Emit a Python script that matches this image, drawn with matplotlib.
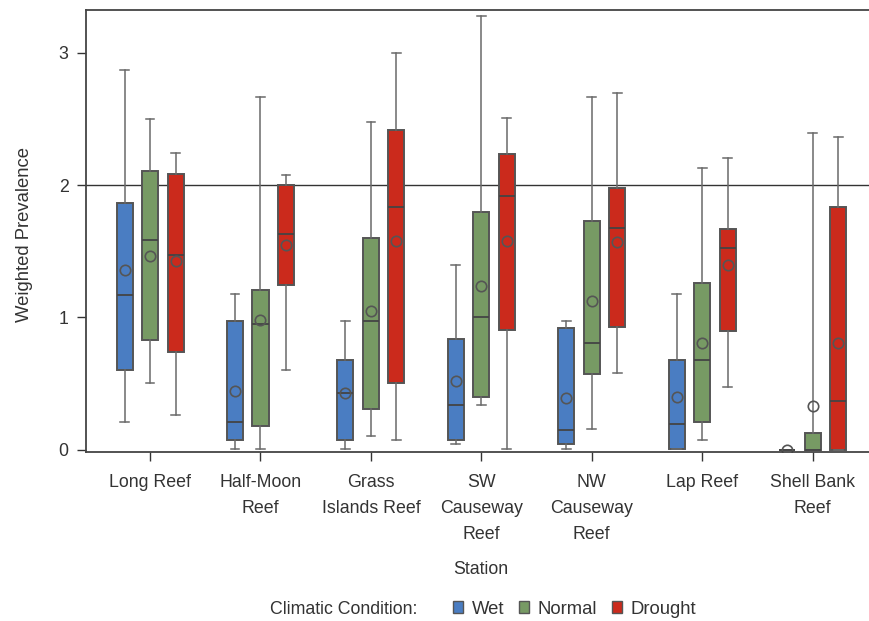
import numpy as np
import matplotlib
matplotlib.use("Agg")
import matplotlib.pyplot as plt
from matplotlib.patches import Patch

plt.rcParams['font.family'] = ['Liberation Sans', 'DejaVu Sans']

stations = ["Long Reef", "Half-Moon\nReef", "Grass\nIslands Reef", "SW\nCauseway\nReef",
            "NW\nCauseway\nReef", "Lap Reef", "Shell Bank\nReef"]
conditions = ["Wet", "Normal", "Drought"]
colors = ["#4a7dc2", "#779a64", "#cb2a1c"]

# per condition, one value per station
wet_low = [0.21, 0.006, 0.006, 0.042, 0.006, 0.006, 0.0]
wet_q1 = [0.60, 0.07, 0.07, 0.07, 0.039, 0.006, 0.0]
wet_med = [1.17, 0.21, 0.43, 0.34, 0.145, 0.19, 0.0]
wet_q3 = [1.865, 0.972, 0.675, 0.834, 0.919, 0.675, 0.0]
wet_high = [2.87, 1.174, 0.972, 1.396, 0.972, 1.174, 0.0]
wet_mean = [1.355, 0.443, 0.43, 0.518, 0.39, 0.40, 0.0]

normal_low = [0.505, 0.006, 0.104, 0.337, 0.155, 0.07, 0.0]
normal_q1 = [0.831, 0.175, 0.304, 0.40, 0.569, 0.208, 0.0]
normal_med = [1.587, 0.952, 0.972, 1.005, 0.806, 0.675, 0.0]
normal_q3 = [2.107, 1.204, 1.597, 1.799, 1.726, 1.257, 0.122]
normal_high = [2.50, 2.669, 2.477, 3.277, 2.669, 2.127, 2.394]
normal_mean = [1.461, 0.982, 1.045, 1.239, 1.121, 0.803, 0.327]

drought_low = [0.261, 0.601, 0.07, 0.006, 0.581, 0.473, 0.0]
drought_q1 = [0.740, 1.247, 0.505, 0.906, 0.929, 0.896, 0.0]
drought_med = [1.471, 1.628, 1.832, 1.915, 1.673, 1.522, 0.369]
drought_q3 = [2.087, 2.0, 2.414, 2.233, 1.978, 1.670, 1.832]
drought_high = [2.243, 2.076, 2.999, 2.51, 2.699, 2.203, 2.364]
drought_mean = [1.428, 1.545, 1.58, 1.58, 1.57, 1.396, 0.803]

series = [
    (wet_low, wet_q1, wet_med, wet_q3, wet_high, wet_mean),
    (normal_low, normal_q1, normal_med, normal_q3, normal_high, normal_mean),
    (drought_low, drought_q1, drought_med, drought_q3, drought_high, drought_mean),
]

fig = plt.figure(figsize=(8.69, 6.21), dpi=100)
ax = fig.add_axes([0.0990, 0.2729, 0.9098, 0.7110])

offsets = [-0.231, 0.0, 0.231]
x = np.arange(len(stations))
for k, (lo, q1, med, q3, hi, mn) in enumerate(series):
    stats = []
    for i in range(len(stations)):
        stats.append(dict(whislo=lo[i], q1=q1[i], med=med[i], q3=q3[i],
                          whishi=hi[i], mean=mn[i], fliers=[]))
    ax.bxp(stats, positions=x + offsets[k], widths=0.145, patch_artist=True,
           showmeans=True, manage_ticks=False,
           boxprops=dict(facecolor=colors[k], edgecolor="#555555", linewidth=1.4),
           medianprops=dict(color="#444444", linewidth=1.3),
           whiskerprops=dict(color="#6a6a6a", linewidth=1.1),
           capprops=dict(color="#6a6a6a", linewidth=1.1),
           capwidths=0.08,
           meanprops=dict(marker="o", markerfacecolor="none", markeredgecolor="#555555",
                          markersize=7.5, markeredgewidth=1.2))

ax.axhline(2, color="#333333", linewidth=1.0, zorder=0)

ax.set_xlim(-0.58, 6.58)
ax.set_ylim(-0.015, 3.3245)
ax.set_yticks([0, 1, 2, 3])
ax.set_xticks(x)
ax.set_xticklabels(stations, linespacing=1.68)
ax.tick_params(axis="both", length=6.5, width=1.0, color="#333333", labelsize=12.8,
               labelcolor="#333333", pad=6)
ax.tick_params(axis="x", pad=10)
for s in ax.spines.values():
    s.set_color("#444444")
    s.set_linewidth(1.3)

fig.text(25 / 869, 1 - 234 / 621, "Weighted Prevalence", rotation=90, ha="center",
         va="center", fontsize=13.3, color="#333333")
fig.text(481 / 869, 1 - 569 / 621, "Station", ha="center", va="center",
         fontsize=12.8, color="#333333")
fig.text(270 / 869, 1 - 609 / 621, "Climatic Condition:", ha="left", va="center",
         fontsize=12.8, color="#333333")

handles = [Patch(facecolor=c, edgecolor="#555555", linewidth=1.0) for c in colors]
fig.legend(handles, conditions, loc="center left", bbox_to_anchor=(453 / 869, 1 - 609 / 621),
           ncol=3, frameon=False, fontsize=13.3, handlelength=0.56, handleheight=0.56,
           handletextpad=0.45, columnspacing=0.8, borderpad=0, borderaxespad=0,
           labelcolor="#333333")

fig.savefig("out.png", dpi=100)
